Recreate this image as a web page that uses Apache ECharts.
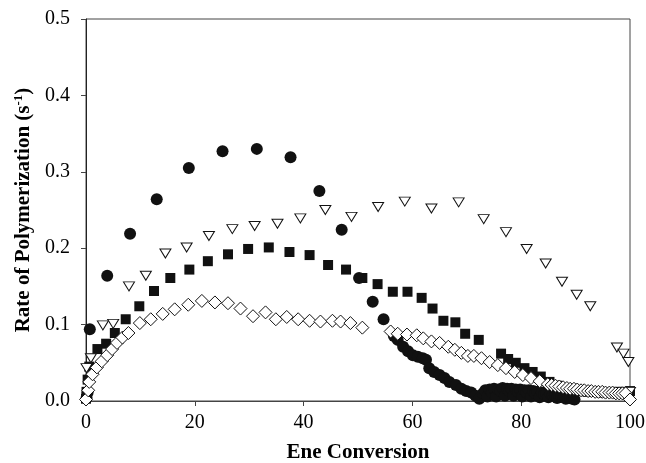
<!DOCTYPE html>
<html>
<head>
<meta charset="utf-8">
<script src="https://cdn.jsdelivr.net/npm/echarts@6/dist/echarts.min.js"></script>
<style>
  html, body { margin: 0; padding: 0; background: #fff; }
  #chart { width: 646px; height: 463px; }
</style>
</head>
<body>
<div id="chart"></div>
<script>
// x = ene conversion, y = rate of polymerization (s-1)
var circleData = [
  [0.1, 0.004], [0.3, 0.011], [0.7, 0.094], [3.9, 0.164], [8.1, 0.219], [13.0, 0.264],
  [18.9, 0.305], [25.1, 0.327], [31.4, 0.330], [37.6, 0.319], [42.9, 0.275], [47.0, 0.224],
  [50.2, 0.161], [52.7, 0.130], [54.7, 0.107], [56.6, 0.085], [57.3, 0.080], [58.3, 0.071],
  [59.2, 0.065], [60.1, 0.060], [61.0, 0.058], [61.9, 0.056], [62.5, 0.054], [63.1, 0.043],
  [64.0, 0.038], [65.0, 0.034], [65.9, 0.030], [66.8, 0.025], [68.0, 0.021], [69.0, 0.016],
  [69.9, 0.013], [70.8, 0.011], [71.6, 0.007], [72.3, 0.003], [73.0, 0.010], [73.4, 0.014],
  [73.8, 0.006], [74.2, 0.015], [74.6, 0.011], [75.0, 0.016], [75.4, 0.006], [75.8, 0.015],
  [76.2, 0.013], [76.6, 0.017], [77.0, 0.007], [77.4, 0.016], [77.8, 0.013], [78.2, 0.016],
  [78.6, 0.007], [79.0, 0.015], [79.4, 0.012], [79.8, 0.015], [80.2, 0.006], [80.6, 0.014],
  [81.0, 0.011], [81.4, 0.014], [81.8, 0.006], [82.2, 0.013], [82.6, 0.010], [83.0, 0.012],
  [83.4, 0.005], [83.8, 0.011], [84.2, 0.009], [84.6, 0.010], [85.0, 0.005], [85.4, 0.009],
  [85.8, 0.008], [86.2, 0.007], [86.6, 0.004], [87.0, 0.007], [87.4, 0.006], [87.8, 0.005],
  [88.2, 0.003], [88.6, 0.005], [89.0, 0.004], [89.4, 0.003], [89.8, 0.002]
];
var squareData = [
  [0.0, 0.003], [0.1, 0.012], [0.3, 0.028], [0.6, 0.045], [2.1, 0.068], [3.7, 0.075],
  [5.3, 0.089], [7.3, 0.107], [9.8, 0.124], [12.5, 0.144], [15.5, 0.161], [19.0, 0.172],
  [22.4, 0.183], [26.1, 0.192], [29.8, 0.199], [33.6, 0.201], [37.4, 0.195], [41.1, 0.191],
  [44.5, 0.178], [47.8, 0.172], [50.8, 0.161], [53.6, 0.153], [56.4, 0.143], [59.1, 0.143],
  [61.7, 0.135], [63.7, 0.121], [65.7, 0.105], [67.9, 0.103], [69.7, 0.088], [72.2, 0.080],
  [76.3, 0.062], [77.6, 0.055], [79.0, 0.050], [80.6, 0.043], [82.1, 0.038], [83.6, 0.032],
  [85.2, 0.025], [86.6, 0.020], [88.0, 0.016], [89.4, 0.014], [90.8, 0.013], [92.2, 0.012],
  [93.6, 0.012], [95.0, 0.011], [96.4, 0.011], [97.8, 0.012], [99.2, 0.012], [100, 0.013]
];
var triangleData = [
  [0.1, 0.043], [0.9, 0.056], [3.1, 0.099], [5.0, 0.101], [7.9, 0.150], [11.0, 0.164],
  [14.6, 0.193], [18.5, 0.201], [22.6, 0.216], [26.9, 0.225], [31.0, 0.229], [35.2, 0.232],
  [39.4, 0.239], [44.0, 0.250], [48.8, 0.241], [53.7, 0.254], [58.6, 0.261], [63.5, 0.252],
  [68.5, 0.260], [73.1, 0.238], [77.2, 0.221], [81.0, 0.199], [84.5, 0.180], [87.5, 0.156],
  [90.2, 0.139], [92.7, 0.124], [97.6, 0.070], [98.8, 0.062], [99.7, 0.051], [100, 0.012]
];
var diamondData = [
  [0.0, 0.002], [0.4, 0.014], [0.6, 0.025], [1.2, 0.035], [2.0, 0.044], [2.9, 0.052],
  [3.9, 0.060], [4.8, 0.068], [5.7, 0.076], [6.7, 0.083], [7.8, 0.089], [9.9, 0.102],
  [11.9, 0.107], [14.1, 0.114], [16.3, 0.120], [18.8, 0.126], [21.3, 0.131], [23.7, 0.129],
  [26.1, 0.128], [28.4, 0.121], [30.7, 0.111], [33.0, 0.116], [34.9, 0.107], [36.9, 0.110],
  [39.0, 0.107], [41.1, 0.105], [43.1, 0.104], [45.3, 0.105], [46.8, 0.104], [48.6, 0.102],
  [50.8, 0.096], [56.0, 0.091], [57.3, 0.088], [59.0, 0.087], [60.8, 0.086], [62.0, 0.082],
  [63.5, 0.078], [65.0, 0.076], [66.6, 0.071], [67.8, 0.067], [69.0, 0.063], [70.2, 0.059],
  [71.3, 0.059], [72.7, 0.056], [74.2, 0.051], [75.7, 0.047], [77.2, 0.043], [78.8, 0.038],
  [80.3, 0.034], [81.8, 0.030], [83.4, 0.026], [84.9, 0.022], [85.6, 0.021], [86.3, 0.020],
  [87.0, 0.019], [87.7, 0.018], [88.4, 0.017], [89.0, 0.016], [89.7, 0.016], [90.3, 0.015],
  [91.0, 0.014], [91.6, 0.014], [92.3, 0.013], [92.9, 0.013], [93.6, 0.012], [94.2, 0.012],
  [94.9, 0.012], [95.5, 0.011], [96.2, 0.011], [96.8, 0.011], [97.4, 0.010], [98.0, 0.010],
  [98.6, 0.010], [99.2, 0.010], [100, 0.002]
];
var xTicks = [0, 20, 40, 60, 80, 100];
var yTicks = [0.0, 0.1, 0.2, 0.3, 0.4, 0.5];

var chart = echarts.init(document.getElementById('chart'));
var font = 'Liberation Serif';
var axisColor = '#444';

var option = {
  animation: false,
  backgroundColor: '#fff',
  grid: {
    left: 86, right: 16, top: 19, bottom: 62,
    outerBoundsMode: 'none',
    containLabel: false,
    show: true, borderColor: axisColor, borderWidth: 1
  },
  xAxis: {
    type: 'value',
    min: xTicks[0], max: xTicks[xTicks.length - 1], interval: 20,
    name: 'Ene Conversion',
    nameLocation: 'middle', nameGap: 41,
    nameTextStyle: { fontFamily: font, fontWeight: 'bold', fontSize: 21, color: '#000' },
    axisLine: { show: true, lineStyle: { color: axisColor, width: 1 } },
    axisTick: { show: true, inside: false, length: 5, lineStyle: { color: axisColor } },
    axisLabel: { fontFamily: font, fontSize: 20, color: '#000', margin: 12 },
    splitLine: { show: false }
  },
  yAxis: {
    type: 'value',
    min: yTicks[0], max: yTicks[yTicks.length - 1], interval: 0.1,
    name: '{t|Rate of Polymerization (s}{sup|-1}{t|)}',
    nameLocation: 'middle', nameGap: 50, nameRotate: 90,
    nameTextStyle: {
      fontFamily: font, fontWeight: 'bold', fontSize: 21, color: '#000',
      rich: {
        t: { fontFamily: font, fontWeight: 'bold', fontSize: 21, color: '#000' },
        sup: { fontFamily: font, fontWeight: 'bold', fontSize: 13, color: '#000', verticalAlign: 'top', padding: [0, 0, 9, 0] }
      }
    },
    axisLine: { show: true, lineStyle: { color: '#222', width: 1 } },
    axisTick: { show: true, inside: false, length: 5, lineStyle: { color: axisColor } },
    axisLabel: {
      fontFamily: font, fontSize: 20, color: '#000', margin: 16,
      formatter: function (v) { return v.toFixed(1); }
    },
    splitLine: { show: false }
  },
  series: [
    {
      type: 'scatter', name: 'circle', data: circleData,
      symbol: 'circle', symbolSize: 12,
      itemStyle: { color: '#111', opacity: 1 }
    },
    {
      type: 'scatter', name: 'square', data: squareData,
      symbol: 'rect', symbolSize: 10,
      itemStyle: { color: '#111', opacity: 1 }
    },
    {
      type: 'scatter', name: 'triangle', data: triangleData,
      symbol: 'triangle', symbolSize: [11, 9], symbolRotate: 180,
      itemStyle: { color: '#fff', borderColor: '#111', borderWidth: 1, opacity: 1 }
    },
    {
      type: 'scatter', name: 'diamond', data: diamondData,
      symbol: 'diamond', symbolSize: [13, 13],
      itemStyle: { color: '#fff', borderColor: '#111', borderWidth: 1, opacity: 1 }
    }
  ]
};

chart.setOption(option);
</script>
</body>
</html>
